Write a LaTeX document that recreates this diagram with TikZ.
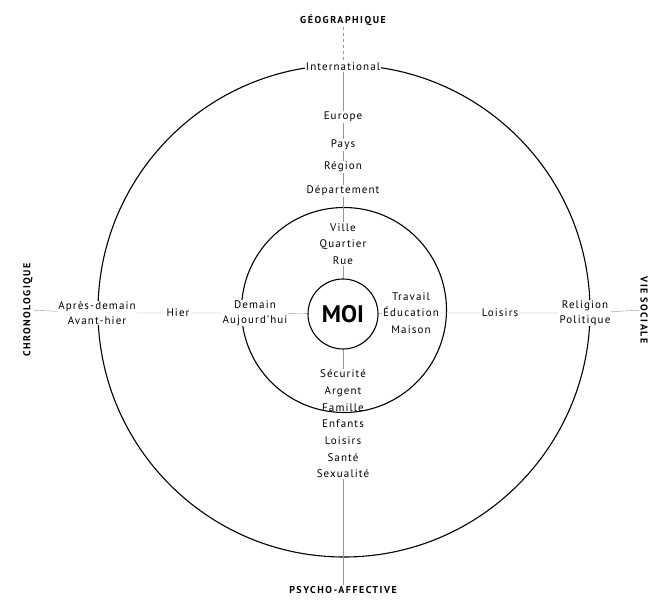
\documentclass[tikz,border=0pt]{standalone}
\usepackage{fontspec}
\setmainfont{PT Sans}
\usepackage{tikz}
\usetikzlibrary{positioning}
\definecolor{axisgray}{RGB}{150,150,150}
\tikzstyle{axis} = [thin,color=axisgray]

\begin{document}
\begin{tikzpicture}[
    x=1pt, y=-1pt,
    item/.style={fill=white, inner sep=1pt, font=\fontsize{11}{16.7}\selectfont\addfontfeature{LetterSpace=10}, text centered, align=center},
    title/.style={inner sep=1pt, font=\fontsize{10}{12}\selectfont\bfseries\addfontfeature{LetterSpace=15}},
    ring/.style={draw=black, line width=1.1pt}
]
\useasboundingbox (0,0) rectangle (653,601);

% Circles
\node (outer) [ring, circle, minimum size=492pt] at (344,311) {};
\node (inner) [ring, circle, minimum size=205pt] at (344,310) {};

% Central node
\node (moi) [ring, circle, fill=white, minimum size=70pt, inner sep=0pt, font=\fontsize{24}{28}\selectfont\bfseries] at (343,314) {MOI};

% Axis titles
\node (geo) [title] at (343,20) {GÉOGRAPHIQUE};
\node (psy) [title] at (343,590) {PSYCHO-AFFECTIVE};
\node (chrono) [title, rotate=90] at (28,310) {CHRONOLOGIQUE};
\node (social) [title, rotate=-90] at (644,310) {VIE SOCIALE};

% Geographic axis
\node (intl) [item] at (343,67) {International};
\node (europe) [item] at (343,117) {Europe};
\node (pays) [item] at (343,145) {Pays};
\node (region) [item] at (343,167) {Région};
\node (dept) [item] at (343,191) {Département};
\node (ville) [item, fill=none] at (343,244) {Ville\\Quartier\\Rue};

% Psycho-affective axis
\node (psycho) [item, fill=none] at (343,424) {Sécurité\\Argent\\Famille\\Enfants\\Loisirs\\Santé\\Sexualité};

% Chronological axis
\node (past) [item] at (97,313) {Après-demain\\[-2pt]Avant-hier};
\node (hier) [item] at (178,313) {Hier};
\node (today) [item] at (255,313) {Demain\\[-2pt]Aujourd'hui};

% Social axis
\node (work) [item, fill=none] at (411,313) {Travail\\Éducation\\Maison};
\node (loisirs) [item] at (500,313) {Loisirs};
\node (religion) [item] at (585,313) {Religion\\[-2pt]Politique};

% Connections
\draw[axis, dashed] (geo) -- (intl);
\draw[axis] (intl) -- (europe) -- (pays) -- (region) -- (dept) -- (ville) -- (moi);
\draw[axis] (moi) -- (psycho) -- (psy);
\draw[axis] (chrono) -- (past) -- (hier) -- (today) -- (moi);
\draw[axis] (moi) -- (work) -- (loisirs) -- (religion) -- (social);
\end{tikzpicture}
\end{document}
